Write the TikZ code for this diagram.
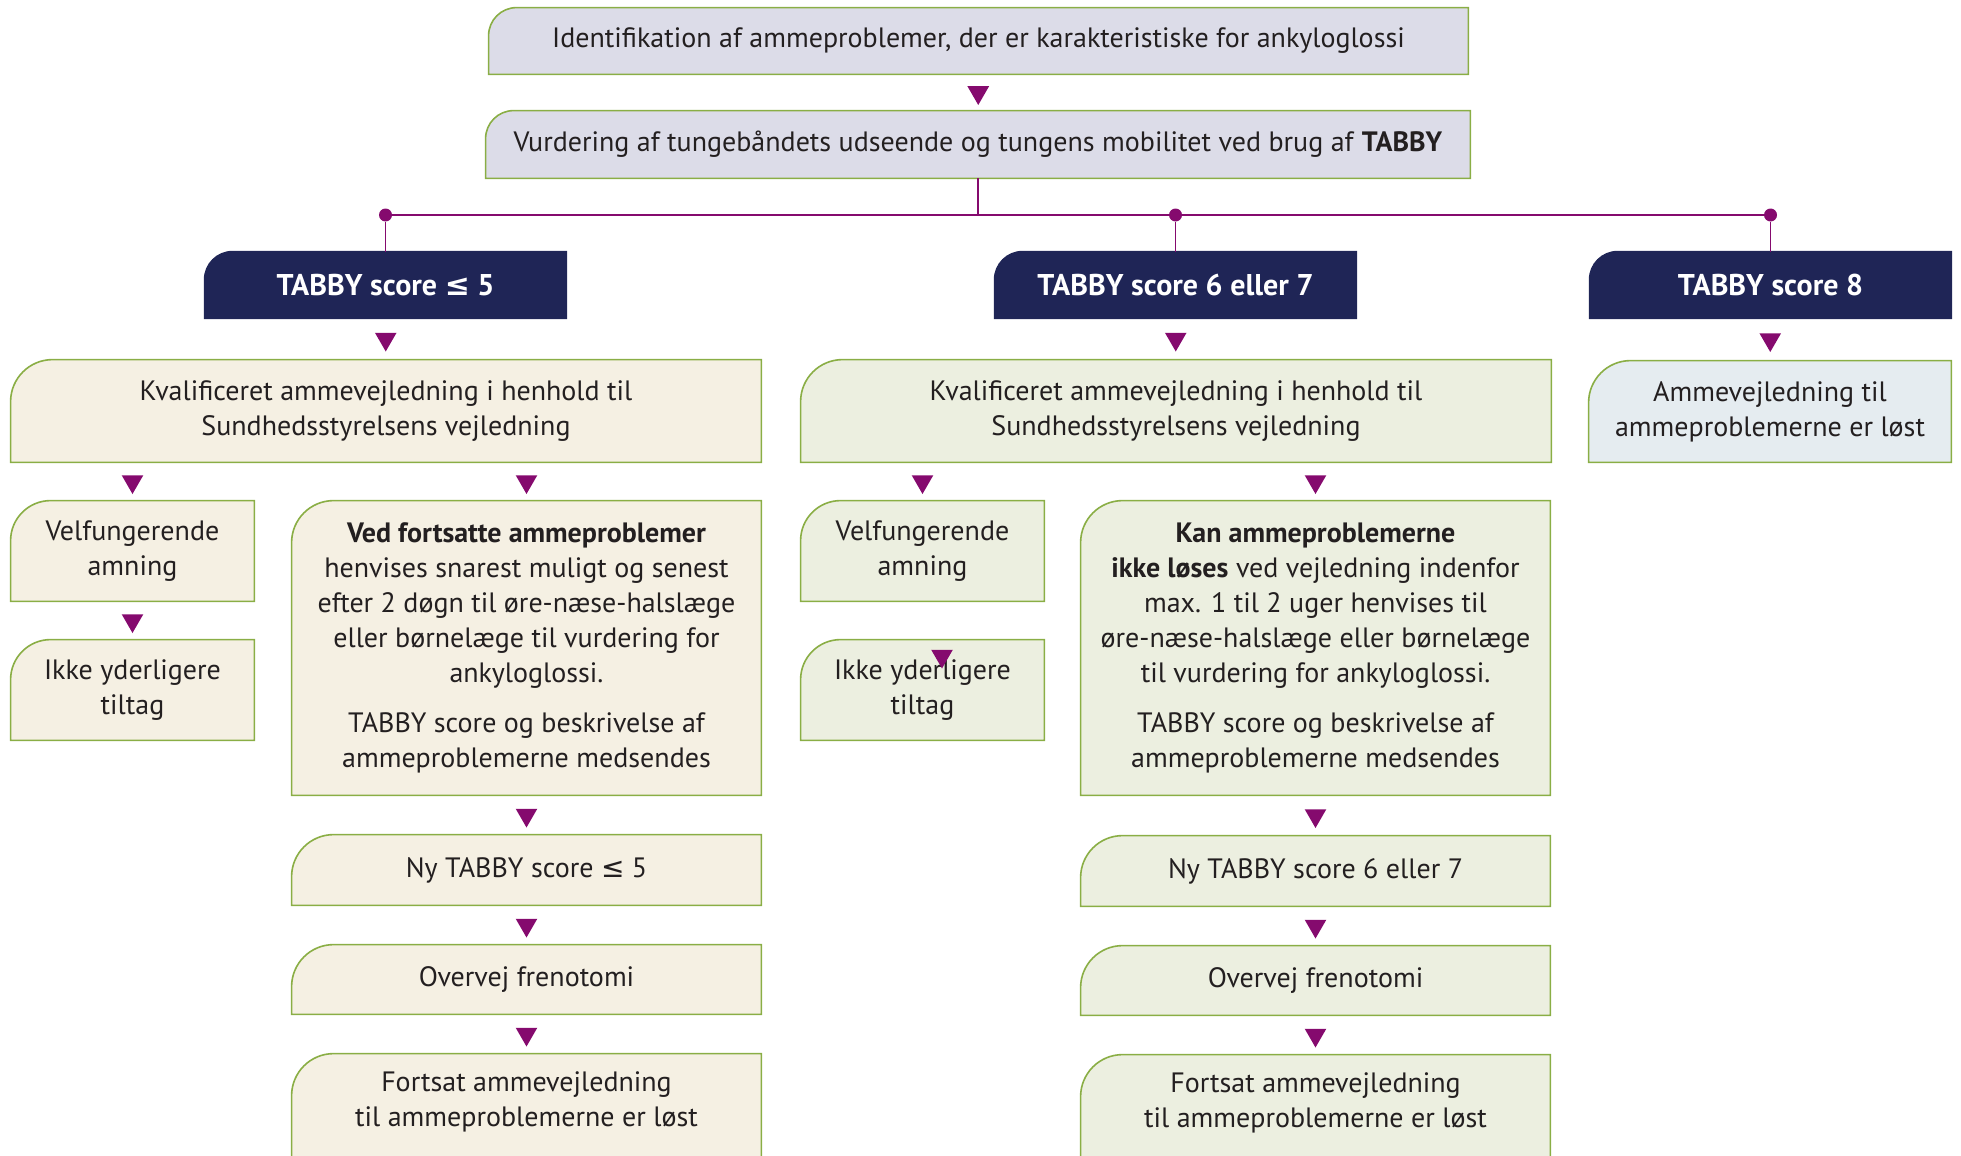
\documentclass[tikz,border=0pt]{standalone}
\usepackage{fontspec}
\setmainfont{PT Sans}
\newfontfamily\symfont{DejaVu Sans}
\usetikzlibrary{backgrounds,shapes.geometric,calc}

\definecolor{lav}{HTML}{DCDCE8}
\definecolor{edge}{HTML}{8AAE45}
\definecolor{navy}{HTML}{1F2556}
\definecolor{cream}{HTML}{F5F0E3}
\definecolor{sage}{HTML}{ECEFE0}
\definecolor{frost}{HTML}{E5ECF0}
\definecolor{mag}{HTML}{850A6E}
\definecolor{ink}{HTML}{231F20}

\tikzset{
  box/.style={align=center, inner sep=0pt, text=ink, font=\fontsize{14}{17.5}\selectfont},
  head/.style={align=center, inner sep=0pt, text=white, font=\fontsize{15}{18}\selectfont\bfseries},
  tri/.style={regular polygon, regular polygon sides=3, shape border rotate=180,
              fill=mag, inner sep=0pt, minimum size=12.5pt},
  link/.style={draw=mag, line width=0.9pt},
  dot/.style={circle, fill=mag, inner sep=0pt, minimum size=6.5pt},
}

\begin{document}
\begin{tikzpicture}[x=0.5pt, y=-0.5pt]
  \clip (0,0) rectangle (1961,1156);

  % top of the flow
  \node[box, minimum width=489.5pt, minimum height=33pt] (top) at (978.5,41)
    {Identifikation af ammeproblemer, der er karakteristiske for ankyloglossi};
  \node[box, minimum width=492pt, minimum height=33.5pt] (vurd) at (978,144.5)
    {Vurdering af tungebåndets udseende og tungens mobilitet ved brug af \textbf{TABBY}};

  % the three scores
  \node[head, minimum width=180.5pt, minimum height=33pt] (score5) at (385.5,285)
    {TABBY score {\symfont ≤} 5};
  \node[head, minimum width=180.5pt, minimum height=33pt] (score67) at (1175.5,285)
    {TABBY score 6 eller 7};
  \node[head, minimum width=180.5pt, minimum height=33pt] (score8) at (1770.5,285)
    {TABBY score 8};

  \node[box, minimum width=375pt, minimum height=51pt] (kval1) at (386,411)
    {Kvalificeret ammevejledning i henhold til\\Sundhedsstyrelsens vejledning};
  \node[box, minimum width=375pt, minimum height=51pt] (kval2) at (1176,411)
    {Kvalificeret ammevejledning i henhold til\\Sundhedsstyrelsens vejledning};
  \node[box, minimum width=181pt, minimum height=50.5pt] (amme8) at (1770,411.5)
    {Ammevejledning til\\ammeproblemerne er løst};

  % left column
  \node[box, minimum width=121.5pt, minimum height=50pt] (vel1) at (132.5,551)
    {Velfungerende\\amning};
  \node[box, minimum width=121.5pt, minimum height=50pt] (ikke1) at (132.5,690)
    {Ikke yderligere\\tiltag};
  \node[box, minimum width=234.5pt, minimum height=147pt] (ved) at (526.5,648)
    {\textbf{Ved fortsatte ammeproblemer}\\henvises snarest muligt og senest\\efter 2 døgn til øre-næse-halslæge\\
     eller børnelæge til vurdering for\\ankyloglossi.\\[7.5pt]TABBY score og beskrivelse af\\ammeproblemerne medsendes};
  \node[box, minimum width=234.5pt, minimum height=35pt] (ny5) at (526.5,870)
    {Ny TABBY score {\symfont ≤} 5};
  \node[box, minimum width=234.5pt, minimum height=34.5pt] (ov1) at (526.5,979.5)
    {Overvej frenotomi};
  \node[box, minimum width=234.5pt, minimum height=48pt] (fort1) at (526.5,1102)
    {Fortsat ammevejledning\\til ammeproblemerne er løst};

  % middle column
  \node[box, minimum width=121.5pt, minimum height=50pt] (vel2) at (922.5,551)
    {Velfungerende\\amning};
  \node[box, minimum width=121.5pt, minimum height=50pt] (ikke2) at (922.5,690)
    {Ikke yderligere\\tiltag};
  \node[box, minimum width=234.5pt, minimum height=147pt] (kan) at (1315.5,648)
    {\textbf{Kan ammeproblemerne}\\\textbf{ikke løses} ved vejledning indenfor\\max. 1 til 2 uger henvises til\\
     øre-næse-halslæge eller børnelæge\\til vurdering for ankyloglossi.\\[7.5pt]TABBY score og beskrivelse af\\ammeproblemerne medsendes};
  \node[box, minimum width=234.5pt, minimum height=35pt] (ny67) at (1315.5,871)
    {Ny TABBY score 6 eller 7};
  \node[box, minimum width=234.5pt, minimum height=34.5pt] (ov2) at (1315.5,980.5)
    {Overvej frenotomi};
  \node[box, minimum width=234.5pt, minimum height=48pt] (fort2) at (1315.5,1103)
    {Fortsat ammevejledning\\til ammeproblemerne er løst};

  % branching bar
  \node[dot] (d1) at (score5.north |- 0,215) {};
  \node[dot] (d2) at (score67.north |- 0,215) {};
  \node[dot] (d3) at (score8.north |- 0,215) {};
  \draw[link] (d1) -- (d3);
  \draw[link] (vurd.south) -- (vurd.south |- d2);
  \foreach \s/\d in {score5/d1, score67/d2, score8/d3}
    \draw[link] (\d) -- (\s.north);

  % markers
  \foreach \a/\b in {top/vurd, score5/kval1, score67/kval2, score8/amme8,
                     vel1/ikke1, ved/ny5, ny5/ov1, ov1/fort1,
                     kan/ny67, ny67/ov2, ov2/fort2}
    \node[tri] at ($(\a.south)!0.5!(\b.north)$) {};
  \foreach \a/\b in {kval1/vel1, kval1/ved, kval2/vel2, kval2/kan}
    \node[tri] at ($(\b.north)!0.5!(\b.north |- \a.south)$) {};
  \node[tri] at (942,656) {};

  % box outlines, top left corner rounded
  \begin{scope}[on background layer]
    \foreach \n/\c/\e/\r in {top/lav/edge/14pt, vurd/lav/edge/14pt,
        score5/navy/navy/14pt, score67/navy/navy/14pt, score8/navy/navy/14pt,
        kval1/cream/edge/21pt, vel1/cream/edge/20pt, ikke1/cream/edge/20pt,
        ved/cream/edge/21pt, ny5/cream/edge/21pt, ov1/cream/edge/21pt,
        kval2/sage/edge/21pt, vel2/sage/edge/20pt, ikke2/sage/edge/20pt,
        kan/sage/edge/21pt, ny67/sage/edge/21pt, ov2/sage/edge/21pt,
        amme8/frost/edge/21pt}
      \draw[draw=\e, fill=\c, line width=0.8pt]
        (\n.south west) -- ([yshift=-\r]\n.north west)
        arc[start angle=180, end angle=90, radius=\r]
        -- (\n.north east) -- (\n.south east) -- cycle;
    \foreach \n/\c in {fort1/cream, fort2/sage}
      \draw[draw=edge, fill=\c, line width=0.8pt]
        ([yshift=-30pt]\n.south west) -- ([yshift=-21pt]\n.north west)
        arc[start angle=180, end angle=90, radius=21pt]
        -- (\n.north east) -- ([yshift=-30pt]\n.south east);
  \end{scope}
\end{tikzpicture}
\end{document}
